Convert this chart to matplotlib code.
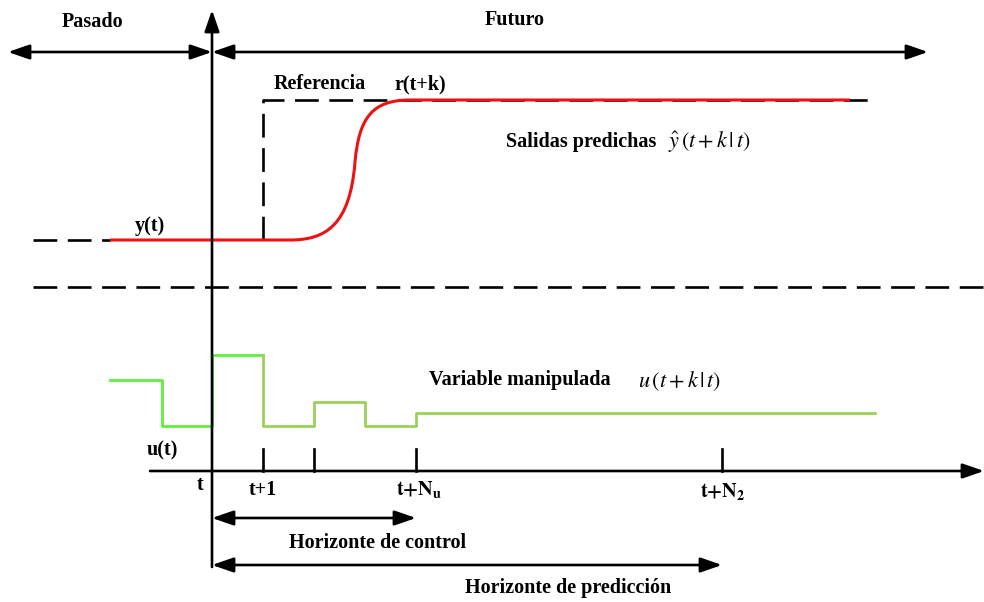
import matplotlib
matplotlib.use("Agg")
import matplotlib.pyplot as plt
from matplotlib.path import Path
from matplotlib.patches import PathPatch

plt.rcParams['mathtext.fontset'] = 'stix'
plt.rcParams['font.family'] = ['Liberation Serif', 'DejaVu Serif']

# ---- data (x in sampling steps relative to t, y in diagram units, top = small) ----
STEP_PX = 51.0
ORIGIN_PX = 212.0

def k(px):
    return (px - ORIGIN_PX) / STEP_PX

# past output level, reference level
y_past = 240
y_ref = 100
sep_line_y = 287

# reference step instant and end
ref_step_k = 1
ref_end_k = k(875)

# predicted output key points (bezier control points)
out_start_k = k(110)
out_flat_end_k = k(290)
out_mid = (k(355), 162)
out_top_k = k(410)
out_end_k = k(850)

# manipulated variable: past (bright) and future (dull) step sequences
u_past_x = [k(110), k(162), k(162), 0, 0, 1]
u_past_y = [380, 380, 426, 426, 355, 355]
u_fut_x = [1, 1, 2, 2, 3, 3, 4, 4, k(875)]
u_fut_y = [355, 426, 426, 402, 402, 426, 426, 413, 413]

tick_steps = [1, 2, 4, 10]
tick_labels = {0: 't', 1: 't+1', 4: r'$\mathbf{t{+}N_u}$', 10: r'$\mathbf{t{+}N_2}$'}
Nu = 4
N2 = 10

time_axis_y = 471

fig = plt.figure(figsize=(9.84, 6.02), dpi=100)
ax = fig.add_axes([0, 0, 1, 1])
ax.set_xlim(k(0), k(984))
ax.set_ylim(602, 0)
ax.axis('off')

dash = (0, (9, 4))
lw = 1.9

# dashed lines
ax.plot([k(33), out_start_k], [y_past, y_past], color='black', lw=lw, linestyle=dash)
ax.plot([k(33), k(984)], [sep_line_y, sep_line_y], color='black', lw=lw, linestyle=dash)
ax.plot([ref_step_k, ref_step_k, ref_end_k], [y_past, y_ref, y_ref], color='black', lw=lw, linestyle=dash)

# predicted output (red)
verts = [(out_start_k, y_past), (out_flat_end_k, y_past),
         (k(325), y_past), (k(350), 226), out_mid,
         (k(359), 118), (k(372), y_ref), (out_top_k, y_ref),
         (out_end_k, y_ref)]
codes = [Path.MOVETO, Path.LINETO,
         Path.CURVE4, Path.CURVE4, Path.CURVE4,
         Path.CURVE4, Path.CURVE4, Path.CURVE4,
         Path.LINETO]
ax.add_patch(PathPatch(Path(verts, codes), fill=False, edgecolor='#ee1111', lw=2.2, zorder=3))

# manipulated variable
ax.plot(u_past_x, u_past_y, color='#5ef03a', lw=2.0, zorder=3)
ax.plot(u_fut_x, u_fut_y, color='#99d15a', lw=2.0, zorder=3)

arrow_both = dict(arrowstyle='<|-|>,head_length=1.3,head_width=0.45', color='black',
                  lw=1.9, shrinkA=0, shrinkB=0, mutation_scale=10)
arrow_one = dict(arrowstyle='-|>,head_length=1.3,head_width=0.45', color='black',
                 lw=1.9, shrinkA=0, shrinkB=0, mutation_scale=10)

# vertical axis at t
ax.annotate('', xy=(0, 10), xytext=(0, 567), arrowprops=arrow_one)
# pasado / futuro arrows
ax.annotate('', xy=(k(8), 52), xytext=(0, 52), arrowprops=arrow_both)
ax.annotate('', xy=(0, 52), xytext=(k(928), 52), arrowprops=arrow_both)
# time axis
ax.annotate('', xy=(k(984), time_axis_y), xytext=(k(150), time_axis_y), arrowprops=arrow_one)
# ticks
for s in tick_steps:
    ax.plot([s, s], [449, time_axis_y], color='black', lw=1.9)
# horizons
ax.annotate('', xy=(0, 518), xytext=(Nu, 518), arrowprops=arrow_both)
ax.annotate('', xy=(0, 565), xytext=(N2, 565), arrowprops=arrow_both)

fs = 14.5
bold = dict(fontsize=fs, fontweight='bold', color='black')
ax.text(k(92), 22, 'Pasado', ha='center', va='center', **bold)
ax.text(k(515), 20, 'Futuro', ha='center', va='center', **bold)
ax.text(k(320), 84, 'Referencia', ha='center', va='center', **bold)
ax.text(k(420), 84, 'r(t+k)', ha='center', va='center', **bold)
ax.text(k(581), 142, 'Salidas predichas', ha='center', va='center', **bold)
ax.text(k(668), 142, r'$\hat{y}\,(t+k\,|\,t)$', ha='left', va='center', fontsize=16)
ax.text(k(150), 226, 'y(t)', ha='center', va='center', **bold)
ax.text(k(520), 380, 'Variable manipulada', ha='center', va='center', **bold)
ax.text(k(638), 381, r'$u\,(t+k\,|\,t)$', ha='left', va='center', fontsize=16)
ax.text(k(162), 450, 'u(t)', ha='center', va='center', **bold)
ax.text(k(200), 485, tick_labels[0], ha='center', va='center', **bold)
ax.text(1, 490, tick_labels[1], ha='center', va='center', **bold)
ax.text(k(419), 490, tick_labels[4], ha='center', va='center', fontsize=14.5)
ax.text(k(723), 492, tick_labels[10], ha='center', va='center', fontsize=14.5)
ax.text(k(378), 543, 'Horizonte de control', ha='center', va='center', **bold)
ax.text(k(568), 588, 'Horizonte de predicción', ha='center', va='center', **bold)

fig.savefig('out.png', dpi=100)
